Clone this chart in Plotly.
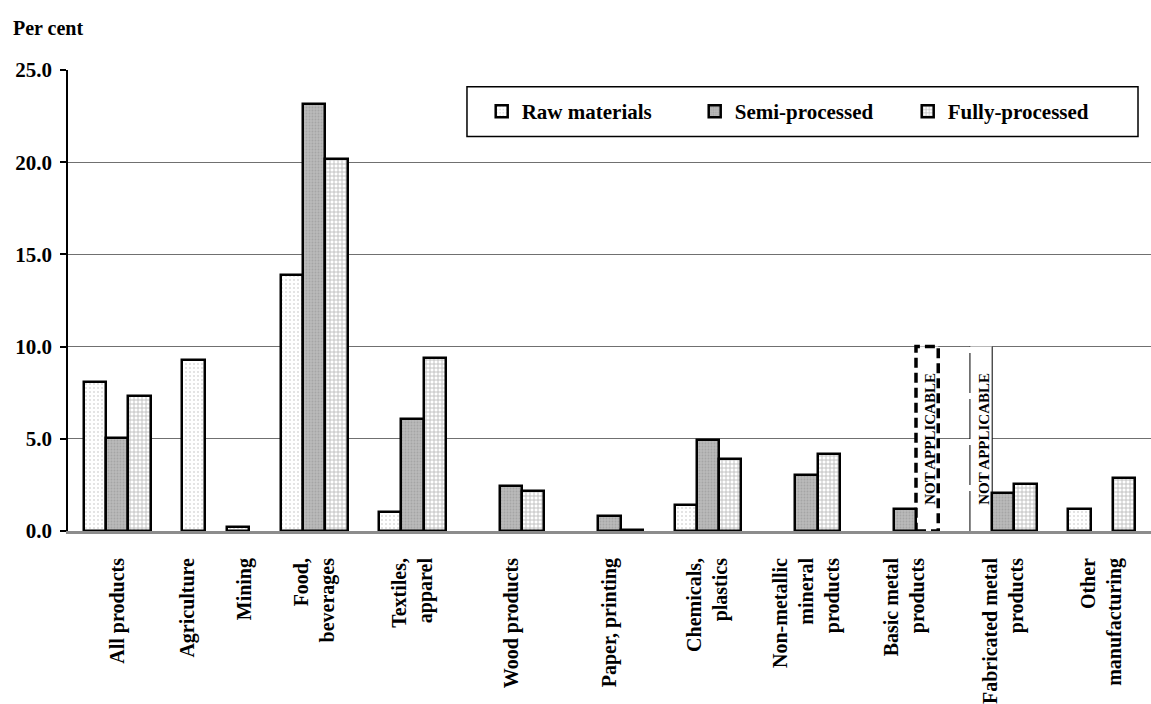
import plotly.graph_objects as go

# Category labels (line breaks as printed under the axis)
categories = [
    "All products", "Agriculture", "Mining", "Food,<br>beverages",
    "Textiles,<br>apparel", "Wood products", "Paper, printing",
    "Chemicals,<br>plastics", "Non-metallic<br>mineral<br>products",
    "Basic metal<br>products", "Fabricated metal<br>products",
    "Other<br>manufacturing",
]

# Per cent, by stage of processing (None = no bar)
raw_materials = [8.10, 9.28, 0.23, 13.89, 1.02, None, None, 1.43, None, None, None, 1.22]
semi_processed = [5.04, None, None, 23.15, 6.10, 2.44, 0.81, 4.93, 3.02, 1.22, 2.07, None]
fully_processed = [7.33, None, None, 20.15, 9.38, 2.17, 0.05, 3.88, 4.19, None, 2.55, 2.87]

y_ticks = [0, 5, 10, 15, 20, 25]

# Stage/category pairs for which no figure exists
not_applicable = [("Basic metal<br>products", "Fully-processed"),
                  ("Fabricated metal<br>products", "Raw materials")]
NA_LEVEL = 10.0

# ---- layout helpers -------------------------------------------------------
FONT = "Liberation Serif"
BAR_W = 0.226
stage_lane = {"Raw materials": -1, "Semi-processed": 0, "Fully-processed": 1}

# Agriculture and Mining share one slot on the axis
slot_of = {}
slot = 0
for c in categories:
    if c == "Mining":
        slot_of[c] = slot_of["Agriculture"]
        continue
    slot_of[c] = slot
    slot += 1
n_slots = slot
lane_override = {("Mining", "Raw materials"): 1}

def bar_x(cat, stage):
    lane = lane_override.get((cat, stage), stage_lane[stage])
    return slot_of[cat] + lane * BAR_W

# Tick positions: labels of a shared slot are spread symmetrically
tickvals, ticktext = [], []
for s in range(n_slots):
    members = [c for c in categories if slot_of[c] == s]
    for i, c in enumerate(members):
        tickvals.append(s + (i - (len(members) - 1) / 2) * 0.58)
        ticktext.append(c)

series = [
    ("Raw materials", raw_materials,
     dict(shape=".", bgcolor="white", fgcolor="#b8b8b8", size=4, solidity=0.2)),
    ("Semi-processed", semi_processed,
     dict(shape=".", bgcolor="#bababa", fgcolor="#909090", size=3, solidity=0.3)),
    ("Fully-processed", fully_processed,
     dict(shape="+", bgcolor="white", fgcolor="#7a7a7a", size=4, solidity=0.4)),
]

fig = go.Figure()
for name, vals, pattern in series:
    xs, ys = [], []
    for c, v in zip(categories, vals):
        if v is None:
            continue
        xs.append(bar_x(c, name))
        ys.append(v)
    fig.add_trace(go.Bar(
        name=name, x=xs, y=ys, width=BAR_W,
        marker=dict(color=pattern["bgcolor"], pattern=pattern,
                    line=dict(color="black", width=2.5)),
    ))

# "Not applicable" placeholders
for idx, (cat, stage) in enumerate(not_applicable):
    xc = bar_x(cat, stage)
    x0, x1 = xc - BAR_W / 2, xc + BAR_W / 2
    if idx == 0:
        fig.add_shape(type="rect", x0=x0, x1=x1, y0=0, y1=NA_LEVEL,
                      fillcolor="white", layer="between",
                      line=dict(color="black", width=3.5, dash="10px,5px"))
    else:
        fig.add_shape(type="rect", x0=x0, x1=x1, y0=0, y1=NA_LEVEL,
                      fillcolor="white", layer="between", line=dict(width=0))
        fig.add_shape(type="line", x0=x0, x1=x0, y0=0, y1=NA_LEVEL, layer="between",
                      line=dict(color="black", width=1, dash="40px,6px"))
        fig.add_shape(type="line", x0=x1, x1=x1, y0=0, y1=NA_LEVEL, layer="between",
                      line=dict(color="black", width=1))
    fig.add_annotation(x=xc + 0.03, y=NA_LEVEL / 2, text="NOT APPLICABLE",
                       textangle=-90, showarrow=False,
                       font=dict(family=FONT, size=15, color="black", weight="bold"))

fig.add_annotation(text="Per cent", xref="paper", yref="paper",
                   x=-0.0526, y=1.092, xanchor="left", yanchor="middle",
                   showarrow=False,
                   font=dict(family=FONT, size=20, color="black", weight="bold"))

# Legend frame
fig.add_shape(type="rect", xref="paper", yref="paper",
              x0=0.3684, x1=0.988, y0=0.8556, y1=0.9639,
              fillcolor="white", line=dict(color="black", width=1.5), layer="above")

fig.update_layout(
    width=1151, height=704,
    margin=dict(l=68, r=0, t=70, b=163),
    paper_bgcolor="white", plot_bgcolor="white",
    font=dict(family=FONT, size=20, color="black", weight="bold"),
    barmode="overlay",
    bargap=0,
    showlegend=True,
    legend=dict(orientation="h", x=0.382, xanchor="left", y=0.91, yanchor="middle",
                bgcolor="rgba(0,0,0,0)", borderwidth=0,
                entrywidth=168, entrywidthmode="pixels",
                font=dict(family=FONT, size=21, color="black", weight="bold")),
)
fig.update_xaxes(range=[-0.5, n_slots - 0.5], tickvals=tickvals, ticktext=ticktext,
                 tickangle=-90, ticks="", showgrid=False, zeroline=False,
                 showline=True, linecolor="#8c8c8c", linewidth=3,
                 ticklabelstandoff=16,
                 tickfont=dict(family=FONT, size=20, color="black", weight="bold"))
fig.update_yaxes(range=[0, 25], tickvals=y_ticks, tickformat=".1f",
                 showgrid=True, gridcolor="#707070", gridwidth=1,
                 zeroline=False, showline=True, linecolor="black", linewidth=1.5,
                 ticks="outside", ticklen=6, tickcolor="black", tickwidth=1.5,
                 ticklabelstandoff=4,
                 tickfont=dict(family=FONT, size=21, color="black", weight="bold"))

fig.write_html("out.html")
